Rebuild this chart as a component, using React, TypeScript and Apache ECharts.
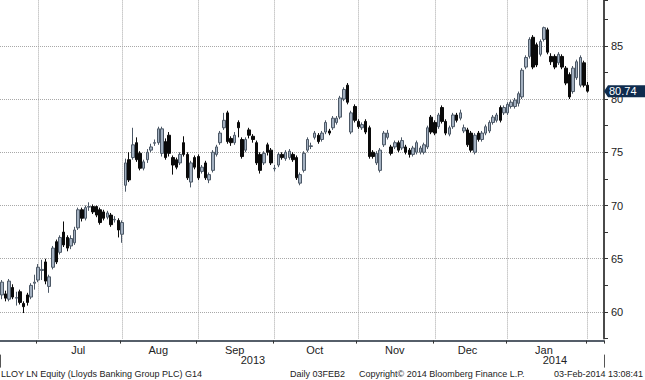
import React, { useEffect, useRef } from 'react';
import * as echarts from 'echarts';

// Trading calendar (LSE): first and last session, and holidays inside the range
const firstSession = '2013-06-17';
const lastSession = '2014-02-03';
const holidays = ['2013-08-26', '2013-12-25', '2013-12-26', '2014-01-01'];
const padSlots = 4;

// OHLC rows: [open, close, low, high]
const junData = [
  [61.6, 62.8, 61.2, 63.0], [61.7, 61.3, 61.0, 62.0], [61.2, 62.9, 61.0, 63.1], [62.3, 61.4, 61.2, 62.6],
  [61.3, 61.35, 60.6, 61.9], [61.9, 60.9, 60.7, 62.1], [60.8, 60.5, 59.9, 61.0], [61.6, 60.9, 60.6, 61.8],
  [61.4, 62.5, 61.2, 62.7], [62.7, 62.8, 62.1, 63.5],
];
const julData = [
  [63.0, 64.2, 62.8, 64.5], [63.9, 64.0, 63.0, 64.9], [64.7, 62.9, 62.6, 65.0], [62.4, 63.3, 61.8, 63.5],
  [64.2, 66.0, 64.0, 66.2], [66.6, 64.7, 64.5, 66.8], [65.6, 67.0, 65.4, 67.2], [67.5, 66.3, 66.1, 68.5],
  [67.0, 66.0, 65.7, 67.2], [66.2, 66.9, 65.9, 67.2], [66.5, 67.7, 66.3, 68.0], [67.9, 69.6, 67.7, 69.8],
  [69.6, 68.8, 68.5, 69.8], [68.8, 69.8, 68.6, 70.0], [69.85, 69.9, 69.5, 70.3], [69.9, 69.4, 69.2, 70.1],
  [69.9, 69.1, 68.9, 70.0], [69.6, 68.4, 68.2, 69.8], [69.4, 68.8, 68.6, 69.6], [68.9, 69.3, 68.7, 69.5],
  [69.1, 68.2, 68.0, 69.3], [68.65, 68.7, 68.4, 69.0], [68.6, 67.7, 67.0, 68.8],
];
const augData = [
  [67.3, 68.4, 66.5, 68.6], [71.9, 74.0, 71.3, 74.4], [74.3, 72.4, 72.2, 75.0], [74.5, 75.7, 74.3, 77.3],
  [75.9, 74.3, 74.1, 76.4], [74.9, 73.5, 73.3, 75.1], [73.5, 74.1, 73.3, 74.3], [74.3, 75.0, 74.0, 75.3],
  [75.2, 75.5, 75.0, 75.8], [75.85, 75.9, 75.6, 76.2], [75.9, 77.2, 75.7, 77.4], [74.9, 77.2, 74.6, 77.4],
  [76.0, 74.5, 74.3, 76.3], [76.6, 74.9, 74.6, 76.9], [74.5, 73.8, 72.9, 74.7], [74.3, 73.6, 73.4, 74.5],
  [74.0, 74.8, 73.8, 75.0], [75.9, 74.8, 74.6, 76.5], [74.8, 72.6, 72.4, 75.0], [72.2, 74.0, 71.7, 74.2],
  [74.5, 73.6, 73.4, 74.7],
];
const sepData = [
  [74.6, 72.6, 72.4, 74.8], [73.2, 73.6, 73.0, 73.8], [74.0, 72.6, 72.4, 74.2], [72.4, 72.9, 72.1, 73.1],
  [73.3, 75.0, 73.1, 75.2], [74.8, 75.5, 74.6, 75.7], [75.9, 76.8, 75.7, 77.0], [77.3, 78.0, 77.1, 78.7],
  [78.7, 76.0, 75.8, 78.9], [76.3, 75.9, 75.6, 76.5], [75.9, 76.6, 75.7, 76.9], [77.8, 77.3, 76.4, 78.0],
  [76.2, 74.6, 74.4, 76.4], [75.2, 76.2, 75.0, 76.4], [77.1, 76.6, 76.3, 77.3], [76.5, 76.2, 75.9, 76.7],
  [75.9, 74.0, 73.8, 76.1], [74.8, 73.3, 73.0, 75.0], [74.0, 74.9, 73.8, 75.1], [75.7, 75.0, 74.7, 75.9],
  [75.2, 74.0, 73.8, 75.4],
];
const octData = [
  [73.45, 73.5, 73.2, 73.8], [73.8, 74.8, 73.6, 75.0], [74.8, 74.5, 74.3, 75.0], [74.4, 75.0, 74.2, 75.2],
  [74.5, 75.1, 74.3, 75.3], [74.8, 74.3, 74.1, 75.0], [74.5, 72.6, 72.4, 74.7], [72.1, 72.9, 71.9, 73.1],
  [73.3, 74.9, 73.1, 75.1], [75.2, 76.2, 75.0, 76.4], [75.55, 75.6, 75.3, 75.9], [76.4, 76.8, 76.2, 77.0],
  [76.6, 76.0, 75.8, 76.8], [76.2, 76.8, 76.0, 77.0], [76.9, 77.8, 76.7, 78.0], [77.0, 76.8, 76.6, 77.2],
  [77.3, 78.2, 77.1, 78.4], [77.8, 78.2, 77.6, 78.4], [78.3, 80.1, 78.1, 80.3], [80.0, 80.9, 79.8, 81.1],
  [81.3, 79.7, 79.5, 81.5], [76.9, 78.7, 76.7, 78.9], [79.3, 78.0, 77.8, 79.5],
];
const novData = [
  [77.9, 77.4, 77.2, 78.1], [77.3, 77.6, 77.1, 77.8], [77.9, 76.9, 76.7, 78.1], [77.3, 74.6, 74.4, 77.5],
  [75.0, 74.6, 74.4, 75.2], [74.0, 74.9, 73.8, 75.1], [73.3, 75.2, 73.1, 75.4], [75.7, 76.8, 75.5, 77.0],
  [76.4, 76.8, 76.2, 77.1], [75.5, 74.9, 74.7, 75.7], [75.5, 75.9, 75.3, 76.1], [75.9, 75.2, 75.0, 76.1],
  [75.4, 76.1, 75.2, 76.4], [75.5, 75.0, 74.8, 75.7], [75.2, 74.8, 74.5, 75.4], [74.8, 75.4, 74.6, 75.6],
  [75.0, 75.9, 74.8, 76.1], [75.0, 75.4, 74.8, 75.6], [75.0, 75.7, 74.8, 75.9], [75.5, 77.3, 75.3, 77.5],
  [78.3, 76.9, 76.7, 78.5],
];
const decData = [
  [77.8, 76.8, 76.6, 78.0], [77.4, 78.5, 77.2, 78.7], [79.2, 77.9, 77.7, 79.4], [77.9, 76.8, 76.6, 78.1],
  [76.7, 77.3, 76.5, 77.5], [77.4, 78.5, 77.2, 78.7], [78.5, 78.0, 77.8, 78.7], [78.2, 78.7, 78.0, 79.0],
  [77.0, 77.3, 76.8, 77.6], [77.1, 75.7, 75.5, 77.3], [76.8, 75.2, 75.0, 77.0], [75.0, 76.6, 74.8, 76.8],
  [76.8, 76.2, 76.0, 77.0], [76.2, 76.8, 76.0, 77.0], [76.8, 77.4, 76.6, 77.6], [77.0, 77.8, 76.8, 78.0],
  [77.8, 78.3, 77.6, 78.5], [78.0, 78.5, 77.8, 78.7], [79.2, 78.0, 77.8, 79.4], [78.7, 79.2, 78.5, 79.4],
];
const janData = [
  [78.7, 79.5, 78.5, 79.7], [79.3, 79.7, 79.1, 79.9], [79.3, 79.9, 79.1, 80.1], [79.6, 80.5, 79.3, 80.7],
  [80.2, 82.7, 80.0, 82.9], [83.0, 83.9, 82.8, 84.1], [84.0, 85.6, 83.8, 85.8], [85.8, 83.0, 82.8, 86.0],
  [85.1, 83.2, 83.0, 85.3], [84.2, 85.4, 84.0, 85.6], [85.6, 86.7, 85.4, 86.8], [86.5, 84.4, 84.2, 86.7],
  [84.0, 83.5, 83.2, 84.3], [84.0, 83.0, 82.8, 84.2], [83.4, 84.2, 83.2, 84.4], [84.0, 83.0, 82.8, 84.2],
  [82.9, 81.5, 81.3, 83.1], [82.3, 80.2, 80.0, 82.5], [80.7, 82.9, 80.5, 83.1], [82.0, 83.5, 81.8, 83.7],
  [81.3, 83.9, 81.1, 84.1], [83.4, 81.3, 81.1, 83.6],
];
const febData = [[81.3, 80.74, 80.6, 81.6]];

const lastPrice = 80.74;
const priceLevels = [60, 65, 70, 75, 80, 85];
const monthNames = ['Jan', 'Feb', 'Mar', 'Apr', 'May', 'Jun', 'Jul', 'Aug', 'Sep', 'Oct', 'Nov', 'Dec'];
const footerLeft = 'LLOY LN Equity (Lloyds Banking Group PLC) G14';
const footerDaily = 'Daily 03FEB2';
const footerCopy = 'Copyright\u00A9 2014 Bloomberg Finance L.P.';
const footerStamp = '03-Feb-2014 13:08:41';

const FONT = '"Liberation Sans", Arial, sans-serif';
const GRID_COLOR = '#a8a8a8';

function buildSessions(): string[] {
  const out: string[] = [];
  const d = new Date(firstSession + 'T00:00:00Z');
  const end = new Date(lastSession + 'T00:00:00Z');
  while (d <= end) {
    const s = d.toISOString().slice(0, 10);
    const wd = d.getUTCDay();
    if (wd !== 0 && wd !== 6 && holidays.indexOf(s) < 0) out.push(s);
    d.setUTCDate(d.getUTCDate() + 1);
  }
  return out;
}

export default function App() {
  const ref = useRef<HTMLDivElement>(null);
  useEffect(() => {
    if (!ref.current) return;
    const chart = echarts.init(ref.current, null, { renderer: 'svg' });
    const sessions = buildSessions();
    const ohlc = [...junData, ...julData, ...augData, ...sepData, ...octData, ...novData, ...decData, ...janData, ...febData];
    const categories = [...sessions];
    for (let i = 0; i < padSlots; i++) categories.push('pad' + i);
    const isDate = (i: number) => i < sessions.length;
    const ym = (i: number) => sessions[i].slice(0, 7);

    const monthStart = (i: number) => i > 0 && isDate(i) && ym(i) !== ym(i - 1);
    const monthStartDates = sessions.filter((_s, i) => monthStart(i));
    const monthRanges: Record<string, [number, number]> = {};
    sessions.forEach((s, i) => {
      const k = s.slice(0, 7);
      if (!monthRanges[k]) monthRanges[k] = [i, i];
      monthRanges[k][1] = i;
    });
    const monthMid = new Set<number>();
    Object.keys(monthRanges).forEach((k) => {
      const [a, b] = monthRanges[k];
      if (b - a + 1 >= 15) monthMid.add(Math.floor((a + b) / 2));
    });
    const yearRanges: Record<string, [number, number]> = {};
    categories.forEach((c, i) => {
      const y = isDate(i) ? c.slice(0, 4) : sessions[sessions.length - 1].slice(0, 4);
      if (!yearRanges[y]) yearRanges[y] = [i, i];
      yearRanges[y][1] = i;
    });
    const yearMid = new Map<number, string>();
    const yearStart = new Set<number>();
    Object.keys(yearRanges).forEach((y, n) => {
      const [a, b] = yearRanges[y];
      yearMid.set(Math.floor((a + b) / 2), y);
      if (n > 0) yearStart.add(a);
    });

    const gridRight = 41;
    const gridLineStyle = { color: GRID_COLOR, type: 'dotted', width: 1 };
    chart.setOption({
      animation: false,
      backgroundColor: '#ffffff',
      grid: { left: 0, right: gridRight, top: 0, bottom: 41.4, containLabel: false },
      xAxis: [
        {
          type: 'category',
          data: categories,
          boundaryGap: true,
          offset: 2,
          axisLine: { show: true, lineStyle: { color: '#1e2a38', width: 1.5 } },
          axisTick: { show: true, interval: (i: number) => monthStart(i), length: 3, lineStyle: { color: '#333' } },
          axisLabel: {
            show: true,
            interval: (i: number) => monthMid.has(i),
            formatter: (v: string) => monthNames[parseInt(v.slice(5, 7), 10) - 1],
            margin: 4,
            fontSize: 11,
            color: '#222',
            fontFamily: FONT,
          },
          splitLine: { show: false },
        },
        {
          type: 'category',
          data: categories,
          boundaryGap: true,
          position: 'bottom',
          offset: 16,
          axisLine: { show: false },
          axisTick: { show: true, interval: (i: number) => yearStart.has(i), length: 13, lineStyle: { color: '#555' } },
          axisLabel: {
            show: true,
            interval: (i: number) => yearMid.has(i),
            formatter: (_v: string, i: number) => yearMid.get(i) || '',
            margin: 0,
            fontSize: 11,
            color: '#222',
            fontFamily: FONT,
          },
          splitLine: { show: false },
        },
      ],
      yAxis: {
        type: 'value',
        position: 'right',
        min: 57.5,
        max: 89.3,
        interval: 2.5,
        axisLine: { show: true, lineStyle: { color: '#4a4a4a', width: 2 } },
        axisTick: { show: true, inside: false, length: 4, lineStyle: { color: '#333' } },
        axisLabel: {
          formatter: (v: number) => (Math.abs(v % 5) < 1e-6 ? String(v) : ''),
          color: '#222',
          fontSize: 11,
          margin: 7,
          fontFamily: FONT,
        },
        splitLine: { show: false },
      },
      series: [
        {
          type: 'candlestick',
          data: ohlc,
          barWidth: 3,
          xAxisIndex: 0,
          z: 3,
          itemStyle: {
            color: '#a3b0c0',
            color0: '#0a0a0a',
            borderColor: '#4c5866',
            borderColor0: '#0a0a0a',
            borderWidth: 1,
          },
          markLine: {
            silent: true,
            symbol: ['none', 'none'],
            z: 1,
            label: { show: false },
            lineStyle: gridLineStyle,
            data: [
              ...priceLevels.map((v) => ({ yAxis: v })),
              ...monthStartDates.map((d) => ({ xAxis: d })),
            ],
          },
        },
      ],
    });

    const yPix = chart.convertToPixel({ yAxisIndex: 0 }, lastPrice) as number;
    const xEdge = chart.getWidth() - gridRight;
    const W = chart.getWidth();
    const H = chart.getHeight();
    const footFont = '9px ' + FONT;
    chart.setOption({
      graphic: [
        {
          type: 'polygon',
          shape: { points: [[xEdge, yPix], [xEdge + 4, yPix - 6], [W, yPix - 6], [W, yPix + 6], [xEdge + 4, yPix + 6]] },
          style: { fill: '#0f2c4e' },
          z: 100,
        },
        {
          type: 'text',
          x: xEdge + 5,
          y: yPix,
          style: { text: String(lastPrice), fill: '#ffffff', font: '11px ' + FONT, verticalAlign: 'middle', align: 'left' },
          z: 101,
        },
        { type: 'text', x: 1, y: H - 6, style: { text: footerLeft, fill: '#222', font: footFont, verticalAlign: 'middle' } },
        { type: 'text', x: 290, y: H - 6, style: { text: footerDaily, fill: '#222', font: footFont, verticalAlign: 'middle' } },
        { type: 'text', x: 359, y: H - 6, style: { text: footerCopy, fill: '#222', font: footFont, verticalAlign: 'middle' } },
        { type: 'text', x: W - 2, y: H - 6, style: { text: footerStamp, fill: '#222', font: footFont, verticalAlign: 'middle', align: 'right' } },
      ],
    });

    return () => chart.dispose();
  }, []);
  return <div ref={ref} style={{ position: 'fixed', left: 0, top: 0, width: 645, height: 380, background: '#fff' }} />;
}
